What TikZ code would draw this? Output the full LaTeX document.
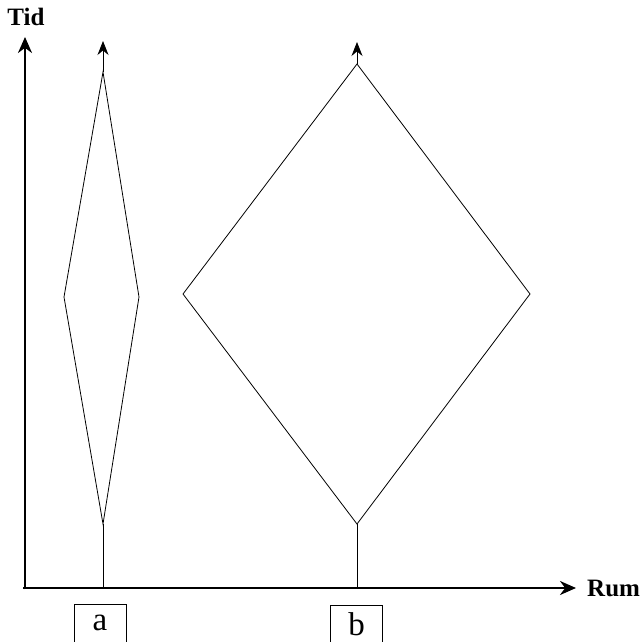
\documentclass[tikz,border=0pt]{standalone}
\usepackage{fontspec}
\setmainfont{Liberation Serif}
\usetikzlibrary{arrows.meta}
\begin{document}
\begin{tikzpicture}[x=1pt,y=-1pt,
  axis/.style={line width=2.6pt,-{Stealth[length=16pt,width=14pt]}},
  worldline/.style={line width=0.8pt,line join=miter},
  tip/.style={line width=0.8pt,-{Stealth[length=14pt,width=11pt]}},
  axislabel/.style={font=\bfseries\fontsize{25}{25}\selectfont,inner sep=0pt},
  tag/.style={draw,line width=0.8pt,minimum width=52pt,minimum height=38pt,inner sep=0pt,
              font=\fontsize{33}{33}\selectfont}]
\useasboundingbox (0,0) rectangle (643,642);
% axes
\coordinate (O) at (23,588);
\coordinate (ytop) at (25,37);
\coordinate (xend) at (576,588);
\draw[axis] (25,589.3) -- (ytop);
\draw[axis] (O) -- (xend);
\node[axislabel] (tid) at (26,17) {Tid};
\node[axislabel,anchor=west] (rum) at (587,588) {Rum};
% world line a
\coordinate (a0) at (103,588);
\coordinate (ab) at (103,524);
\coordinate (al) at (64,297);
\coordinate (ar) at (139,297);
\coordinate (at) at (103,72);
\coordinate (aend) at (103,41);
\draw[worldline] (a0) -- (ab);
\draw[worldline] (ab) -- (al) -- (at) -- (ar) -- cycle;
\draw[tip] (at) -- (aend);
% world line b
\coordinate (b0) at (357,588);
\coordinate (bb) at (357,524);
\coordinate (bl) at (183,294);
\coordinate (br) at (530,294);
\coordinate (bt) at (357,64);
\coordinate (bend) at (357,42);
\draw[worldline] (b0) -- (bb);
\draw[worldline] (bb) -- (bl) -- (bt) -- (br) -- cycle;
\draw[tip] (bt) -- (bend);
% tags
\node[tag] (taga) at (100,623) {a};
\node[tag] (tagb) at (356.5,624) {b};
\end{tikzpicture}
\end{document}
